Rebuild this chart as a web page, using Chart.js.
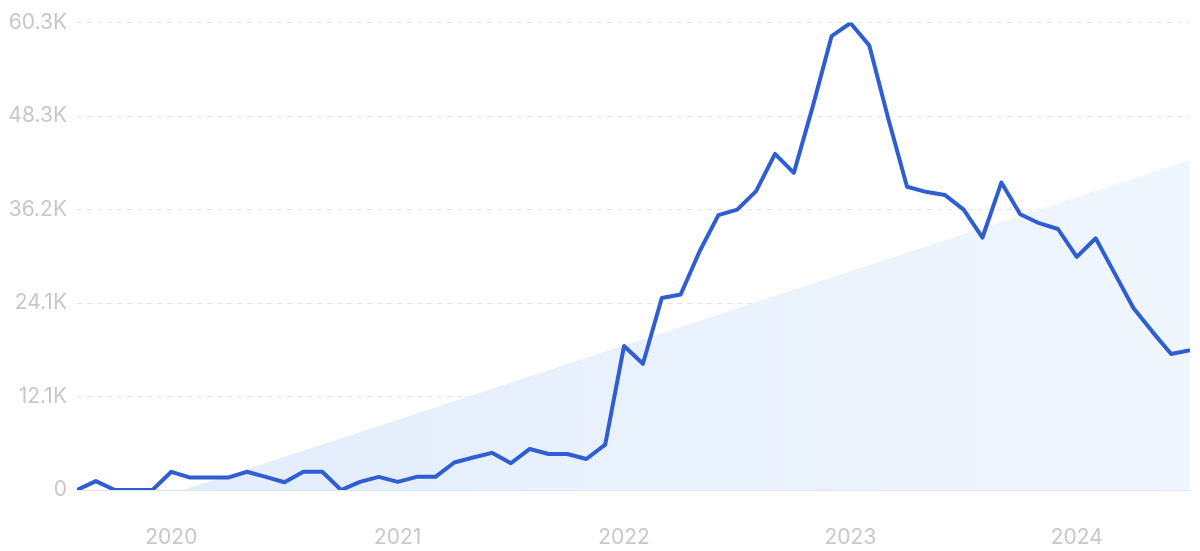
<!DOCTYPE html>
<html>
<head>
<meta charset="utf-8">
<script src="https://cdn.jsdelivr.net/npm/chart.js@4"></script>
<style>
  html, body { margin: 0; padding: 0; background: #fff; }
  #wrap { width: 1200px; height: 551px; }
</style>
</head>
<body>
<div id="wrap"><canvas id="trendChart" width="1200" height="551"></canvas></div>
<script>
// monthly search volume, Aug 2019 - Jul 2024
const months = [
  'Aug 2019', 'Sep 2019', 'Oct 2019', 'Nov 2019', 'Dec 2019',
  'Jan 2020', 'Feb 2020', 'Mar 2020', 'Apr 2020', 'May 2020', 'Jun 2020', 'Jul 2020',
  'Aug 2020', 'Sep 2020', 'Oct 2020', 'Nov 2020', 'Dec 2020',
  'Jan 2021', 'Feb 2021', 'Mar 2021', 'Apr 2021', 'May 2021', 'Jun 2021', 'Jul 2021',
  'Aug 2021', 'Sep 2021', 'Oct 2021', 'Nov 2021', 'Dec 2021',
  'Jan 2022', 'Feb 2022', 'Mar 2022', 'Apr 2022', 'May 2022', 'Jun 2022', 'Jul 2022',
  'Aug 2022', 'Sep 2022', 'Oct 2022', 'Nov 2022', 'Dec 2022',
  'Jan 2023', 'Feb 2023', 'Mar 2023', 'Apr 2023', 'May 2023', 'Jun 2023', 'Jul 2023',
  'Aug 2023', 'Sep 2023', 'Oct 2023', 'Nov 2023', 'Dec 2023',
  'Jan 2024', 'Feb 2024', 'Mar 2024', 'Apr 2024', 'May 2024', 'Jun 2024', 'Jul 2024'
];

const volume = [
  0, 1150, 0, 0, 0,
  2350, 1600, 1600, 1600, 2350, 1700, 1000,
  2350, 2350, 0, 1050, 1700,
  1050, 1700, 1700, 3550, 4200, 4800, 3450,
  5300, 4650, 4650, 4000, 5850,
  18600, 16300, 24800, 25250, 30800, 35500, 36200,
  38600, 43400, 40950, 49500, 58600,
  60300, 57400, 48000, 39150, 38500, 38100, 36200,
  32600, 39700, 35600, 34450, 33700,
  30100, 32500, 28000, 23500, 20450, 17550, 18050
];

// trend line (month index, value)
const trendX = [5.64, 59];
const trendY = [0, 42600];

const yTickValues = [0, 12070, 24140, 36210, 48280, 60350];
const yTickLabels = ['0', '12.1K', '24.1K', '36.2K', '48.3K', '60.3K'];
const yearTickIndex = [5, 17, 29, 41, 53];
const yearLabels = ['2020', '2021', '2022', '2023', '2024'];

const labelColor = '#c7c7cc';
const fontFamily = 'Inter, "Open Sans", sans-serif';

const ctx = document.getElementById('trendChart').getContext('2d');

new Chart(ctx, {
  type: 'line',
  data: {
    datasets: [
      {
        label: 'Volume',
        data: volume.map((v, i) => ({ x: i, y: v })),
        borderColor: '#2e5ed2',
        borderWidth: 4,
        borderJoinStyle: 'round',
        pointRadius: 0,
        tension: 0,
        fill: false,
        order: 0
      },
      {
        label: 'Trend',
        data: trendX.map((x, i) => ({ x: x, y: trendY[i] })),
        borderWidth: 0,
        pointRadius: 0,
        fill: 'origin',
        backgroundColor: (c) => {
          const area = c.chart.chartArea;
          if (!area) return 'rgba(228,238,252,1)';
          const g = c.chart.ctx.createLinearGradient(area.left, 0, area.right, 0);
          g.addColorStop(0, 'rgba(225,236,251,1)');
          g.addColorStop(1, 'rgba(240,246,254,1)');
          return g;
        },
        order: 1
      }
    ]
  },
  options: {
    responsive: false,
    animation: false,
    layout: { padding: { left: 0, right: 10, top: 20, bottom: 0 } },
    plugins: {
      legend: { display: false },
      tooltip: {
        callbacks: {
          title: (items) => months[Math.round(items[0].parsed.x)] || ''
        }
      }
    },
    scales: {
      x: {
        type: 'linear',
        min: 0,
        max: volume.length - 1,
        grid: { display: false, drawTicks: false },
        border: { display: true, color: '#dbe6f5', width: 1 },
        afterBuildTicks: (axis) => {
          axis.ticks = yearTickIndex.map(v => ({ value: v }));
        },
        afterFit: (axis) => { axis.height = 61; },
        ticks: {
          autoSkip: false,
          maxRotation: 0,
          padding: 35,
          color: labelColor,
          font: { family: fontFamily, size: 21 },
          callback: (v) => {
            const k = yearTickIndex.indexOf(v);
            return k >= 0 ? yearLabels[k] : '';
          }
        }
      },
      y: {
        min: 0,
        max: 60350,
        grid: {
          drawTicks: false,
          color: (c) => c.tick && c.tick.value === 0 ? 'rgba(0,0,0,0)' : '#dce4f1',
          lineWidth: 1
        },
        border: { display: false, dash: [5, 5] },
        afterBuildTicks: (axis) => {
          axis.ticks = yTickValues.map(v => ({ value: v }));
        },
        afterFit: (axis) => { axis.width = 77; },
        ticks: {
          padding: 10,
          color: labelColor,
          font: { family: fontFamily, size: 21 },
          callback: (v) => {
            const k = yTickValues.indexOf(v);
            return k >= 0 ? yTickLabels[k] : '';
          }
        }
      }
    }
  }
});
</script>
</body>
</html>
